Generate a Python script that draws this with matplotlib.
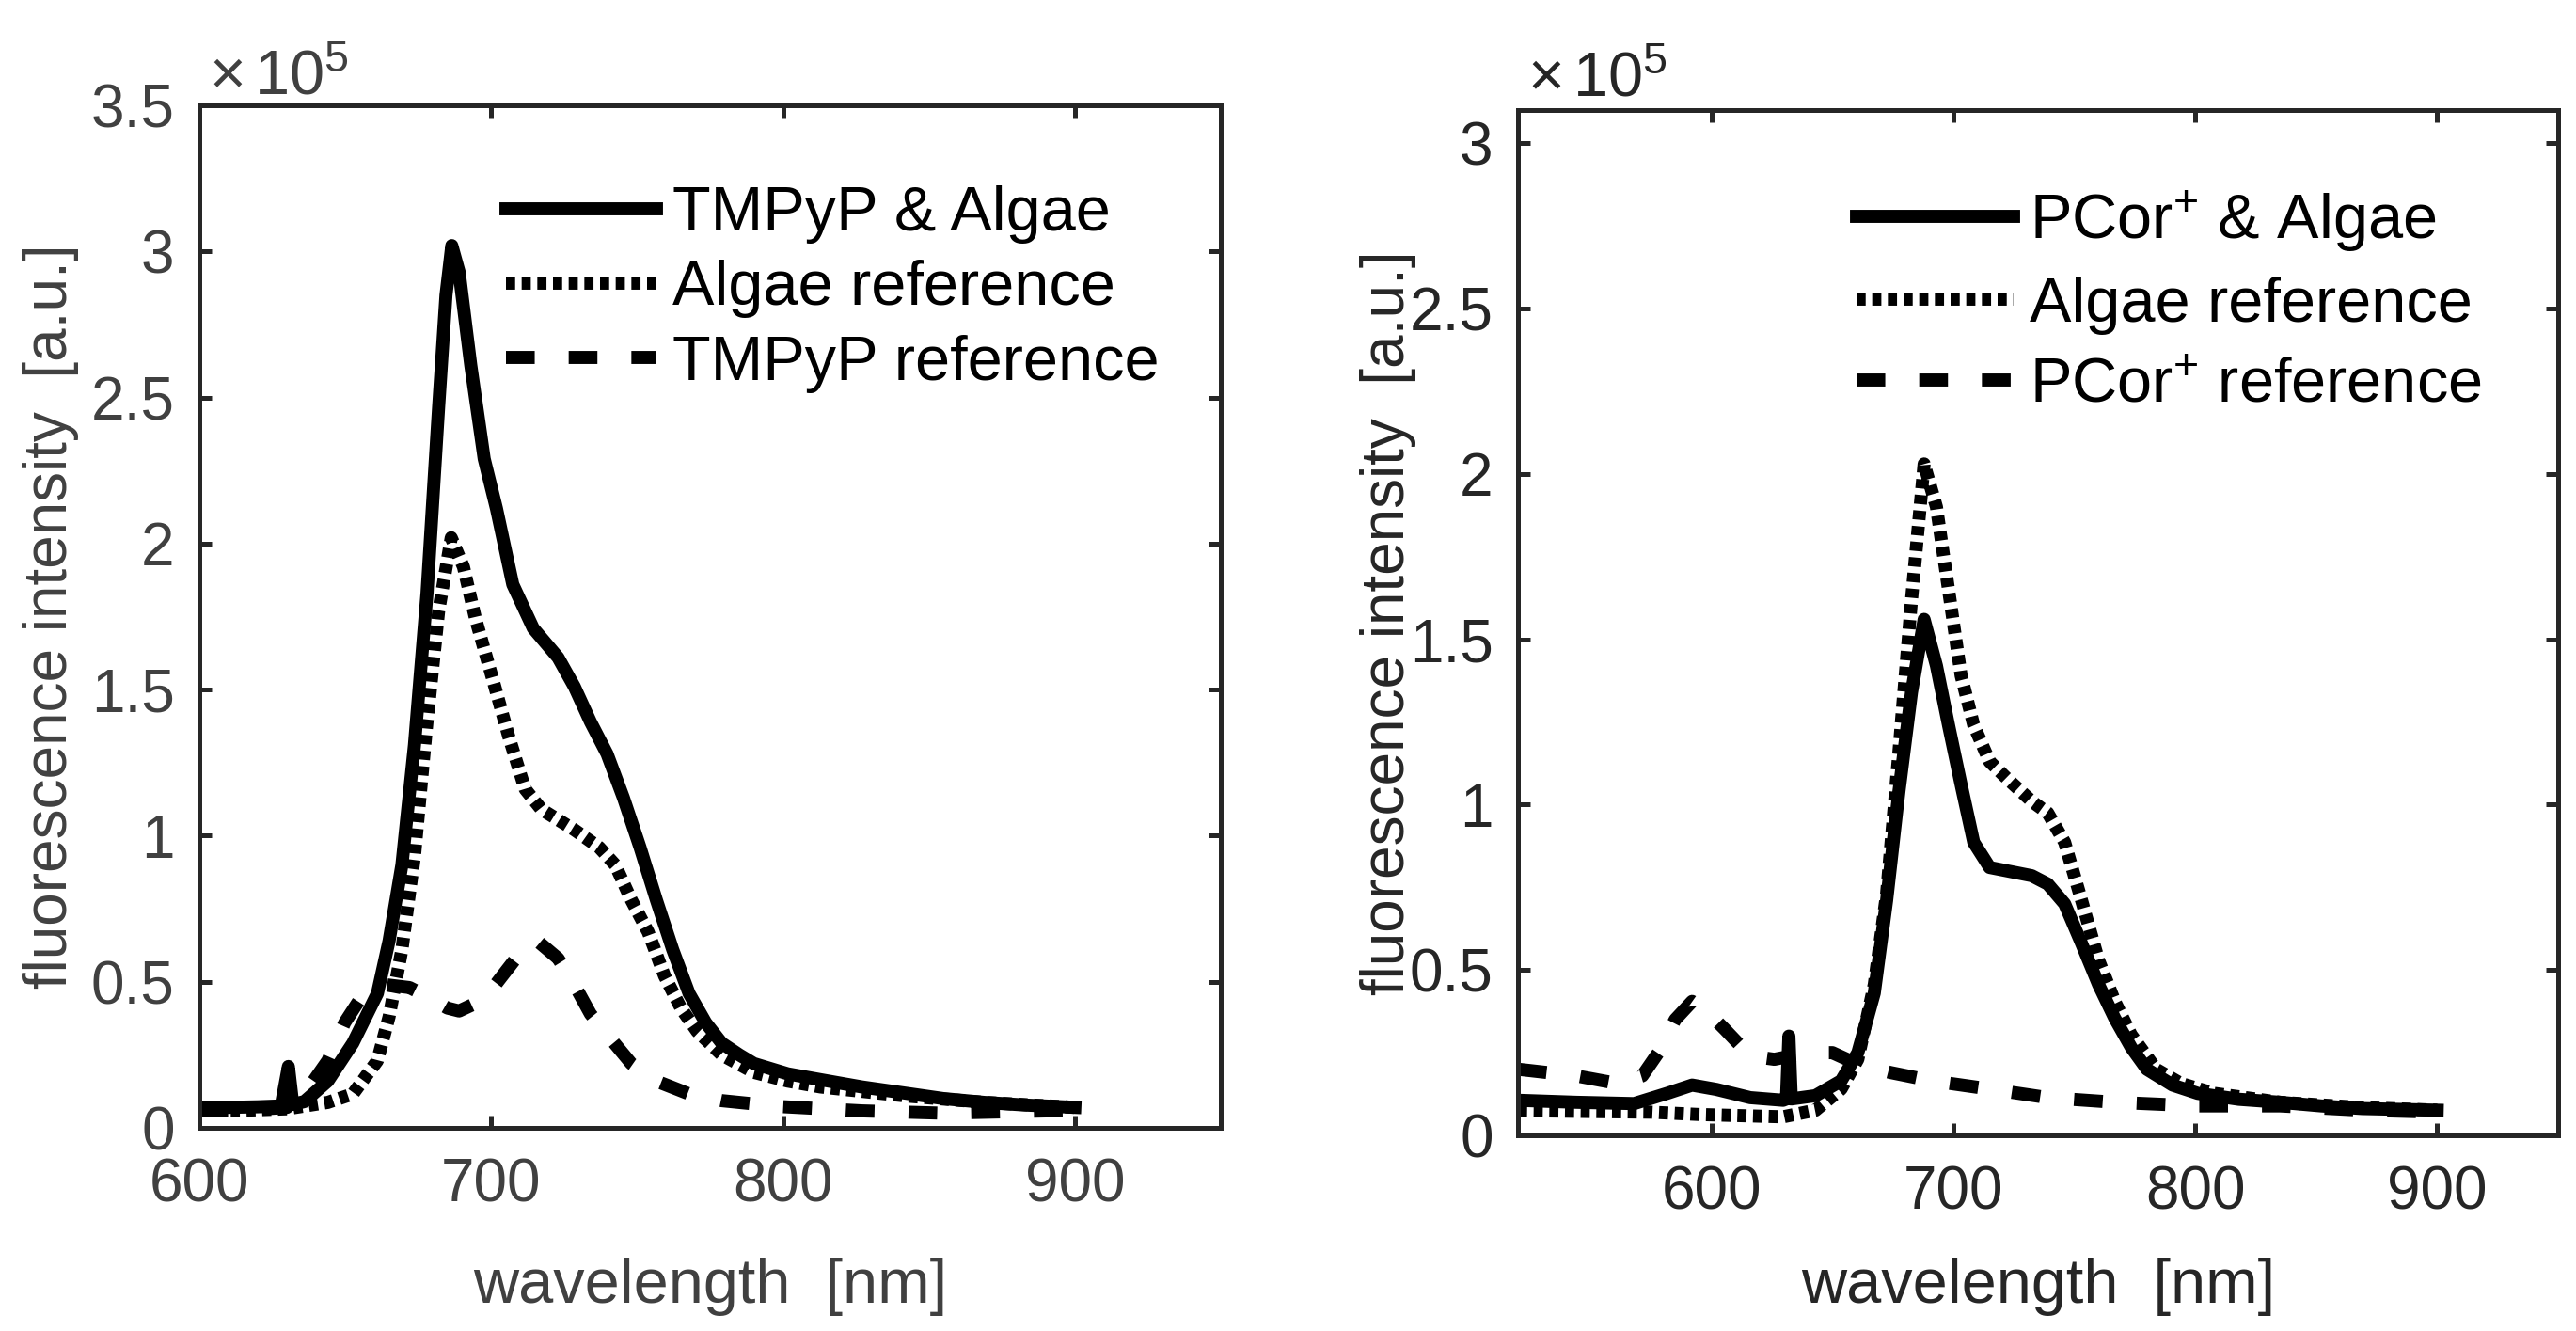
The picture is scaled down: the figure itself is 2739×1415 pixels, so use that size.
import matplotlib
matplotlib.use('Agg')
import matplotlib.pyplot as plt

plt.rcParams['font.family'] = ['Liberation Sans', 'DejaVu Sans']
plt.rcParams['mathtext.fontset'] = 'custom'
plt.rcParams['mathtext.rm'] = 'Liberation Sans'
plt.rcParams['mathtext.it'] = 'Liberation Sans:italic'
plt.rcParams['mathtext.bf'] = 'Liberation Sans:bold'

# ---- data (x in nm, y in units of 1e5) ----
# left panel: TMPyP
tmpyp_algae_x = [600, 610, 620, 628, 630.5, 632, 636, 644, 652.6, 661, 665, 669.4, 673.7, 678, 682,
                 684.5, 686.5, 689, 693, 697.6, 701.8, 707.4, 714.4, 722.9, 728.5, 734, 739.7, 745.3, 751,
                 756.6, 762.2, 767.8, 773.5, 779, 785, 790, 801.6, 812.8, 827, 841, 855, 869, 883, 900]
tmpyp_algae_y = [0.07, 0.07, 0.072, 0.075, 0.21, 0.08, 0.09, 0.16, 0.29, 0.46, 0.64, 0.90, 1.31, 1.83, 2.47,
                 2.85, 3.02, 2.93, 2.61, 2.29, 2.12, 1.86, 1.71, 1.61, 1.51, 1.39, 1.28, 1.13, 0.96,
                 0.78, 0.61, 0.46, 0.36, 0.29, 0.25, 0.22, 0.185, 0.165, 0.14, 0.12, 0.10, 0.087, 0.078, 0.07]

algae_ref_l_x = [600, 615, 630, 644, 652.6, 661, 665, 669.4, 673.7, 678, 682, 686.3, 690.5, 694.7,
                 700.4, 706, 711.6, 717.2, 728.5, 737, 742.5, 748, 753.8, 759.4, 765, 770.6, 779,
                 790, 801.6, 812.8, 841, 869, 900]
algae_ref_l_y = [0.06, 0.06, 0.065, 0.087, 0.116, 0.23, 0.38, 0.61, 0.93, 1.39, 1.77, 2.02, 1.92, 1.74,
                 1.54, 1.34, 1.16, 1.09, 1.02, 0.96, 0.90, 0.78, 0.67, 0.52, 0.41, 0.33, 0.25,
                 0.19, 0.16, 0.14, 0.11, 0.087, 0.07]

tmpyp_ref_x = [600, 615, 630, 637, 644, 649.8, 655, 663.8, 672, 678, 685, 689, 697.6, 703, 710, 715.8,
               722.9, 728.5, 734, 739.7, 748, 756.6, 767.8, 779, 798.8, 827, 855, 900]
tmpyp_ref_y = [0.06, 0.06, 0.07, 0.13, 0.23, 0.36, 0.44, 0.49, 0.48, 0.45, 0.41, 0.40, 0.44, 0.51, 0.60, 0.64,
               0.58, 0.49, 0.39, 0.32, 0.22, 0.16, 0.116, 0.093, 0.073, 0.058, 0.05, 0.06]

# right panel: PCor+
pcor_algae_x = [520, 544, 568, 581.7, 592, 602, 616, 629.6, 631, 632, 633, 643, 653.6, 660.5, 667.3,
                672.4, 677.5, 682.7, 687.9, 693, 698, 703.2, 708.4, 715, 722, 732.4, 739, 746,
                753, 760, 766.7, 773.5, 780, 790.6, 801, 818, 835, 852, 869, 900]
pcor_algae_y = [0.106, 0.10, 0.096, 0.127, 0.152, 0.139, 0.114, 0.106, 0.11, 0.30, 0.11, 0.12, 0.165, 0.25, 0.43,
                0.71, 1.04, 1.34, 1.56, 1.42, 1.24, 1.06, 0.886, 0.81, 0.80, 0.785, 0.76, 0.70,
                0.58, 0.456, 0.354, 0.266, 0.20, 0.152, 0.127, 0.109, 0.10, 0.089, 0.081, 0.076]

algae_ref_r_x = [520, 550, 575, 595, 629.6, 643, 653.6, 660.5, 667.3, 672.4, 677.5, 682.7, 687.9, 693,
                 698, 703.2, 708.4, 715, 722, 732.4, 739, 746, 753, 760, 766.7, 773.5, 783.8, 794,
                 807.8, 835, 869, 900]
algae_ref_r_y = [0.075, 0.072, 0.07, 0.063, 0.056, 0.076, 0.14, 0.23, 0.456, 0.73, 1.16, 1.62, 2.03, 1.90,
                 1.65, 1.39, 1.24, 1.13, 1.08, 1.01, 0.975, 0.886, 0.71, 0.53, 0.405, 0.304, 0.20, 0.157,
                 0.127, 0.10, 0.084, 0.076]

pcor_ref_x = [520, 544, 561, 571.4, 578, 585, 592, 598.8, 605.6, 616, 626, 640, 650, 660.5, 674, 691,
              715, 739, 766.7, 801, 835, 869, 900]
pcor_ref_y = [0.20, 0.18, 0.157, 0.18, 0.25, 0.35, 0.405, 0.37, 0.32, 0.24, 0.23, 0.25, 0.25, 0.215, 0.19, 0.165,
              0.14, 0.114, 0.10, 0.089, 0.089, 0.076, 0.07]

labels_left = ['TMPyP & Algae', 'Algae reference', 'TMPyP reference']
labels_right = ['PCor$^{+}$ & Algae', 'Algae reference', 'PCor$^{+}$ reference']

xticks = [600, 700, 800, 900]
yticks_left = [0, 0.5, 1, 1.5, 2, 2.5, 3, 3.5]
yticks_right = [0, 0.5, 1, 1.5, 2, 2.5, 3]

W, H = 2739, 1415
fig = plt.figure(figsize=(W / 200, H / 200), dpi=200)

FS = 23
LFS = 24
LW = 5.0
dot = (0, (0.7, 0.5))
dash = (0, (2.2, 2.6))


def px(x0, y0, x1, y1):
    # pixel box -> figure fraction rect
    return [x0 / W, 1 - y1 / H, (x1 - x0) / W, (y1 - y0) / H]


def style(ax, xmin, yticks, ylim, tcol, xlabel_y, ylabel_x, off_y):
    ax.set_xlim(xmin, 950)
    ax.set_ylim(*ylim)
    ax.set_xticks(xticks)
    ax.set_xticklabels([str(t) for t in xticks])
    ax.set_yticks(yticks)
    ax.set_yticklabels(['%g' % t for t in yticks])
    for s in ax.spines.values():
        s.set_linewidth(1.8)
        s.set_color('#262626')
    ax.tick_params(direction='in', top=True, right=True, length=4.7, width=1.8,
                   color='#262626', labelsize=FS, labelcolor=tcol)
    ax.tick_params(axis='x', pad=11.5)
    ax.tick_params(axis='y', pad=9.5)
    ax.set_xlabel('wavelength  [nm]', fontsize=LFS, color=tcol)
    ax.xaxis.label.set_va('baseline')
    ax.xaxis.set_label_coords(0.5, xlabel_y)
    ax.set_ylabel('fluorescence intensity  [a.u.]', fontsize=FS, color=tcol)
    ax.yaxis.set_label_coords(ylabel_x, 0.5)
    ax.text(0.009, off_y, r'$\times\,$10$^{5}$', transform=ax.transAxes, fontsize=LFS,
            color=tcol, va='baseline', ha='left')


# left panel
ax1 = fig.add_axes(px(212, 112, 1298, 1199))
ax1.plot(tmpyp_algae_x, tmpyp_algae_y, color='black', lw=LW, ls='-', label=labels_left[0])
ax1.plot(algae_ref_l_x, algae_ref_l_y, color='black', lw=LW, ls=dot, label=labels_left[1])
ax1.plot(tmpyp_ref_x, tmpyp_ref_y, color='black', lw=LW, ls=dash, label=labels_left[2])
style(ax1, 600, yticks_left, (0, 3.5), '#404040', -(1385 - 1199) / 1087, -(212 - 84) / 1086, 1.011)
ax1.legend(loc='upper left', bbox_to_anchor=(538 / W, 1 - 197 / H),
           bbox_transform=fig.transFigure, frameon=False, fontsize=LFS,
           handlelength=2.4, handletextpad=0.26, labelspacing=0.26,
           borderpad=0, borderaxespad=0)

# right panel
ax2 = fig.add_axes(px(1614, 117, 2720, 1207))
ax2.plot(pcor_algae_x, pcor_algae_y, color='black', lw=LW, ls='-', label=labels_right[0])
ax2.plot(algae_ref_r_x, algae_ref_r_y, color='black', lw=LW, ls=dot, label=labels_right[1])
ax2.plot(pcor_ref_x, pcor_ref_y, color='black', lw=LW, ls=dash, label=labels_right[2])
style(ax2, 520, yticks_right, (0, 3.1), '#262626', -(1385 - 1207) / 1090, -(1614 - 1506) / 1106, 1.0132)
ax2.legend(loc='upper left', bbox_to_anchor=(1974 / W, 1 - 200 / H),
           bbox_transform=fig.transFigure, frameon=False, fontsize=LFS,
           handlelength=2.5, handletextpad=0.26, labelspacing=0.36,
           borderpad=0, borderaxespad=0)

fig.savefig('out.png', dpi=200)
